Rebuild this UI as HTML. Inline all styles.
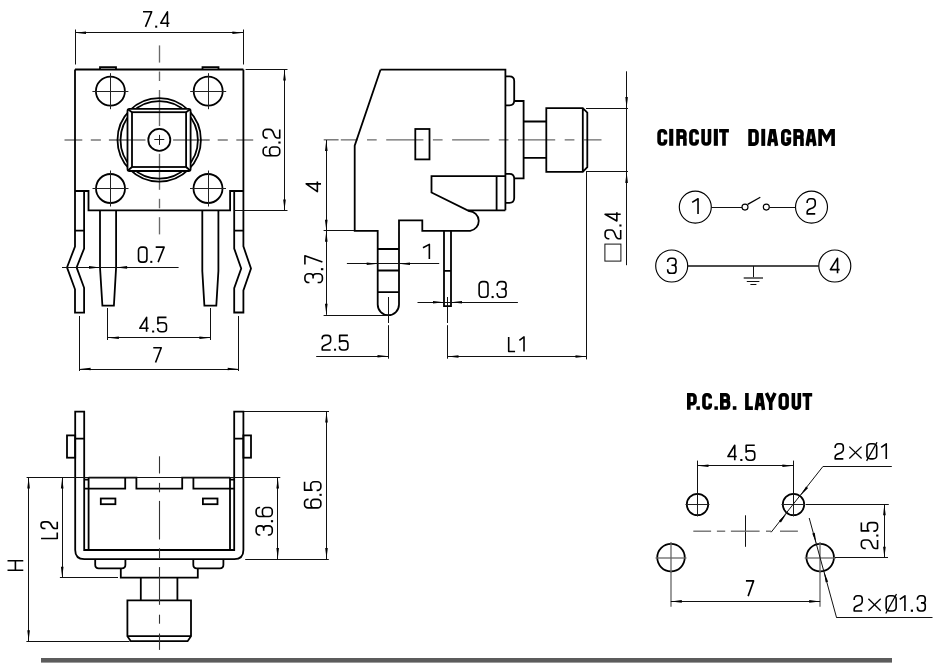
<!DOCTYPE html>
<html><head><meta charset="utf-8"><style>
html,body{margin:0;padding:0;background:#fff;width:941px;height:671px;overflow:hidden}
svg{display:block}
text{font-family:"Liberation Sans",sans-serif}
.k{stroke:#000;stroke-width:1.8;fill:none}
.n{stroke:#111;stroke-width:1;fill:none}
.n2{stroke:#222;stroke-width:1;fill:none}
.n15{stroke:#111;stroke-width:1.6;fill:none}
.c{stroke:#6a6a6a;stroke-width:1.35;fill:none}
.c2{stroke:#333;stroke-width:1.1;fill:none}
.cc{stroke:#000;stroke-width:1.15;fill:none}
.g{stroke:#666;stroke-width:1.3;fill:none}
.din{fill:none;stroke:#000;stroke-width:1.6;vector-effect:non-scaling-stroke;stroke-linejoin:round}
.dind{fill:#000}
.cc2{stroke:#111;stroke-width:1.45;fill:none}
.gb{stroke:#666;stroke-width:1.9;fill:none}
.bd{fill:none;stroke:#000;stroke-width:3.6;vector-effect:non-scaling-stroke;stroke-linejoin:miter;stroke-linecap:butt}
.bdf{fill:#000;stroke:none}
.x{stroke:#000;stroke-width:1.3;fill:none}
.a{fill:#000;stroke:none}
.tx{fill:#000;stroke:#fff;stroke-width:0.45;vector-effect:non-scaling-stroke;paint-order:fill}
.tb{fill:#000;stroke:#000;stroke-width:0.9;vector-effect:non-scaling-stroke;stroke-linejoin:miter}
.bar{fill:#5c5c5c;stroke:none}
</style></head><body>
<svg width="941" height="671" viewBox="0 0 941 671">
<line class="n" x1="75.5" y1="29.5" x2="75.5" y2="64.5"/>
<line class="n" x1="243.5" y1="29.5" x2="243.5" y2="64.5"/>
<line class="n" x1="75" y1="32.5" x2="243.4" y2="32.5"/>
<path class="a" d="M75,32.7L86,31.4L86,34Z"/>
<path class="a" d="M243.4,32.7L232.4,34L232.4,31.4Z"/>
<g transform="matrix(1.02941 0 0 0.98235 142.200 11.000)"><path class="din" transform="translate(0.00 0)" d="M0.8,0.8H9.2L3.2,16.2"/><path class="din" transform="translate(17.20 0)" d="M7.3,16.2V0.8L0.8,12.4H9.2"/><path class="dind" d="M12.60,14.9h2v2.1h-2Z"/></g>
<line class="c" x1="64.5" y1="140" x2="82.3" y2="140"/>
<line class="c" x1="90.8" y1="140" x2="100.9" y2="140"/>
<line class="c" x1="108.9" y1="140" x2="209.7" y2="140"/>
<line class="c" x1="217.7" y1="140" x2="227.8" y2="140"/>
<line class="c" x1="236.3" y1="140" x2="253.2" y2="140"/>
<line class="c" x1="159.5" y1="45.4" x2="159.5" y2="62.6"/>
<line class="c" x1="159.5" y1="71.5" x2="159.5" y2="81"/>
<line class="c" x1="159.5" y1="90" x2="159.5" y2="189.8"/>
<line class="c" x1="159.5" y1="198.8" x2="159.5" y2="208.3"/>
<line class="c" x1="159.5" y1="217.2" x2="159.5" y2="234.4"/>
<path class="k" d="M100,69.5V67.2H116V69.5M202.5,69.5V67.2H218.5V69.5" />
<path class="k" d="M75,69.5H243.4" />
<path class="k" d="M75,69.5V246.5L67,267.4L75,289.3V312.7H84.1V287.8L76.6,267.4L84.1,248.6V191" />
<path class="k" d="M75,191H88.5V210.4H230.1V191H243.4" />
<path class="k" d="M243.4,69.5V246.4L251,268.5L243.4,290.4V312.5H234.2V288.1L241.2,268.5L234.2,248.6V191" />
<path class="k" d="M75,230.7H84.1M234.2,230.7H243.4" />
<path class="k" d="M100,210.4V267.4L102.4,305.7H113.9L116.1,267.4V210.4" />
<path class="k" d="M202.3,210.4V271L204.4,305.7H216.3L218.4,271V210.4" />
<circle class="k" cx="110.4" cy="91.2" r="14.5" />
<line class="n2" x1="92.4" y1="91.5" x2="128.4" y2="91.5"/>
<line class="n2" x1="110.5" y1="73.2" x2="110.5" y2="109.2"/>
<circle class="k" cx="208.2" cy="91.2" r="14.5" />
<line class="n2" x1="190.2" y1="91.5" x2="226.2" y2="91.5"/>
<line class="n2" x1="208.5" y1="73.2" x2="208.5" y2="109.2"/>
<circle class="k" cx="110.5" cy="188.5" r="14.5" />
<line class="n2" x1="92.5" y1="188.5" x2="128.5" y2="188.5"/>
<line class="n2" x1="110.5" y1="170.5" x2="110.5" y2="206.5"/>
<circle class="k" cx="208" cy="188.5" r="14.5" />
<line class="n2" x1="190" y1="188.5" x2="226" y2="188.5"/>
<line class="n2" x1="208.5" y1="170.5" x2="208.5" y2="206.5"/>
<circle class="k" cx="159.2" cy="139.9" r="41.7" />
<circle class="k" cx="159.2" cy="139.9" r="38.7" />
<rect class="k" x="127.5" y="108.9" width="63.1" height="62.1" rx="2" style="fill:#fff;stroke:none"/>
<line class="c" x1="127.5" y1="140" x2="145.5" y2="140"/>
<line class="c" x1="173.1" y1="140" x2="190.6" y2="140"/>
<line class="c" x1="159.5" y1="108.9" x2="159.5" y2="126"/>
<line class="c" x1="159.5" y1="153.8" x2="159.5" y2="171"/>
<rect class="k" x="127.5" y="108.9" width="63.1" height="62.1" rx="2"/>
<rect class="k" x="132" y="112.2" width="54.1" height="54.8" />
<path class="k" d="M128.2,109.6L132,112.2M189.9,109.6L186.1,112.2M128.2,170.3L132,167M189.9,170.3L186.1,167" />
<circle class="k" cx="159.3" cy="139.9" r="11" style="fill:#fff"/>
<line class="n2" x1="154.3" y1="139.5" x2="164.3" y2="139.5"/>
<line class="n2" x1="159.5" y1="134.9" x2="159.5" y2="144.9"/>
<line class="n" x1="245.6" y1="69.5" x2="287.5" y2="69.5"/>
<line class="n" x1="234" y1="210.5" x2="287.5" y2="210.5"/>
<line class="n" x1="284.5" y1="69.3" x2="284.5" y2="210"/>
<path class="a" d="M284.5,69.5L285.8,80.5L283.2,80.5Z"/>
<path class="a" d="M284.5,210.5L283.2,199.5L285.8,199.5Z"/>
<g transform="matrix(0 -1.02574 1.07647 0 262.300 156.500)"><path class="din" transform="translate(0.00 0)" d="M9.2,4.6V4A3.2,3.2 0 0 0 6,0.8H4A3.2,3.2 0 0 0 0.8,4V13A3.2,3.2 0 0 0 4,16.2H6A3.2,3.2 0 0 0 9.2,13V10A3.2,3.2 0 0 0 6,6.8H4A3.2,3.2 0 0 0 0.8,10"/><path class="din" transform="translate(17.20 0)" d="M0.8,5V4A3.2,3.2 0 0 1 4,0.8H6A3.2,3.2 0 0 1 9.2,4V6.6C9.2,9.2 7.4,9.9 4.8,10.7C2.2,11.5 0.8,12.3 0.8,14.2V16.2H9.2"/><path class="dind" d="M12.60,14.9h2v2.1h-2Z"/></g>
<line class="n" x1="62" y1="267.5" x2="178.6" y2="267.5"/>
<path class="a" d="M100,267.4L89,268.7L89,266.1Z"/>
<path class="a" d="M116.1,267.4L127.1,266.1L127.1,268.7Z"/>
<g transform="matrix(1.00000 0 0 0.97647 137.700 246.300)"><path class="din" transform="translate(0.00 0)" d="M4,0.8H6A3.2,3.2 0 0 1 9.2,4V13A3.2,3.2 0 0 1 6,16.2H4A3.2,3.2 0 0 1 0.8,13V4A3.2,3.2 0 0 1 4,0.8Z"/><path class="din" transform="translate(17.20 0)" d="M0.8,0.8H9.2L3.2,16.2"/><path class="dind" d="M12.60,14.9h2v2.1h-2Z"/></g>
<line class="n" x1="107.5" y1="308" x2="107.5" y2="340"/>
<line class="n" x1="210.5" y1="308" x2="210.5" y2="340"/>
<line class="n" x1="107.9" y1="337.5" x2="210.4" y2="337.5"/>
<path class="a" d="M107.9,337.8L118.9,336.5L118.9,339.1Z"/>
<path class="a" d="M210.4,337.8L199.4,339.1L199.4,336.5Z"/>
<g transform="matrix(1.04044 0 0 0.93529 139.000 316.600)"><path class="din" transform="translate(0.00 0)" d="M7.3,16.2V0.8L0.8,12.4H9.2"/><path class="din" transform="translate(17.20 0)" d="M9.2,0.8H1V8.4M1,7.4C1.8,6.9 2.8,6.6 4,6.6H6A3.2,3.2 0 0 1 9.2,9.8V13A3.2,3.2 0 0 1 6,16.2H4A3.2,3.2 0 0 1 0.8,13V12.2"/><path class="dind" d="M12.60,14.9h2v2.1h-2Z"/></g>
<line class="n" x1="79.5" y1="316" x2="79.5" y2="371"/>
<line class="n" x1="238.5" y1="316" x2="238.5" y2="371"/>
<line class="n" x1="79.6" y1="369.5" x2="238.7" y2="369.5"/>
<path class="a" d="M79.6,369L90.6,367.7L90.6,370.3Z"/>
<path class="a" d="M238.7,369L227.7,370.3L227.7,367.7Z"/>
<g transform="matrix(0.95000 0 0 0.95882 152.500 347.000)"><path class="din" transform="translate(0.00 0)" d="M0.8,0.8H9.2L3.2,16.2"/></g>
<line class="c" x1="340.8" y1="139.8" x2="601.5" y2="139.8" stroke-dasharray="37.2 9.5 9.7 9.5" stroke-dashoffset="20.5"/>
<line class="c" x1="323.7" y1="139.8" x2="338.6" y2="139.8"/>
<path class="k" d="M380.5,69.7H505.4V210.3" />
<path class="k" d="M380.5,69.7L354.7,145.6V230.8H377.7V304.5A10.65,10.65 0 0 0 399,304.5V220.4H422.3V230.8H470.2A9.9,9.9 0 0 0 469.1,211.1L431.5,192.5V176.1H505.4" />
<path class="k" d="M467.9,210.3H505.4M496.6,176.1V210.3" />
<path class="k" d="M377.7,249H399M377.7,270.5H399M377.7,292.1H399" />
<path class="k" d="M444,230.8V306.2H451V230.8M444,270.9H451" />
<rect class="k" x="415.3" y="129" width="14.2" height="30.4" />
<path class="k" d="M505.4,76.4H509.5Q514.2,76.4 514.2,81V100.5Q514.2,105.3 509.5,105.3H505.4" />
<path class="k" d="M514.2,101H523.6V178.4H514.2" />
<path class="k" d="M505.4,173.8H509.5Q514.2,173.8 514.2,178.5V198Q514.2,202.8 509.5,202.8H505.4" />
<path class="k" d="M523.6,121.5H546.3M523.6,157.9H546.3" />
<path class="k" d="M546.3,108.1H582.8L587.3,112.6V167.2L582.8,171.9H546.3ZM582.8,108.1V171.9" />
<line class="n" x1="326.5" y1="140" x2="326.5" y2="314.8"/>
<path class="a" d="M326.3,140L327.6,151L325,151Z"/>
<path class="a" d="M326.3,230.8L325,219.8L327.6,219.8Z"/>
<path class="a" d="M326.3,230.8L327.6,241.8L325,241.8Z"/>
<path class="a" d="M326.3,314.8L325,303.8L327.6,303.8Z"/>
<line class="n" x1="323.6" y1="230.5" x2="354" y2="230.5"/>
<line class="n" x1="323.6" y1="315.5" x2="388" y2="315.5"/>
<g transform="matrix(0 -1.20000 0.96471 0 305.400 192.600)"><path class="din" transform="translate(0.00 0)" d="M7.3,16.2V0.8L0.8,12.4H9.2"/></g>
<g transform="matrix(0 -1.04412 1.13529 0 304.000 283.400)"><path class="din" transform="translate(0.00 0)" d="M0.8,4.8V4A3.2,3.2 0 0 1 4,0.8H6A3.2,3.2 0 0 1 9.2,4V5.3A2.7,2.7 0 0 1 6.5,8H4.6M6.5,8A2.7,2.7 0 0 1 9.2,10.7V13A3.2,3.2 0 0 1 6,16.2H4A3.2,3.2 0 0 1 0.8,13V12"/><path class="din" transform="translate(17.20 0)" d="M0.8,0.8H9.2L3.2,16.2"/><path class="dind" d="M12.60,14.9h2v2.1h-2Z"/></g>
<line class="n" x1="346.9" y1="263.5" x2="439.2" y2="263.5"/>
<path class="a" d="M377.7,263.7L366.7,265L366.7,262.4Z"/>
<path class="a" d="M399,263.7L410,262.4L410,265Z"/>
<g transform="matrix(1.18571 0 0 0.94706 422.000 243.600)"><path class="din" transform="translate(0.00 0)" d="M0.8,4.4L6.2,0.8V16.2"/></g>
<line class="n" x1="388.5" y1="297" x2="388.5" y2="323"/>
<line class="n" x1="388.5" y1="325.2" x2="388.5" y2="358.7"/>
<line class="n" x1="447.5" y1="297" x2="447.5" y2="323"/>
<line class="n" x1="447.5" y1="325.2" x2="447.5" y2="358.7"/>
<line class="n" x1="417.5" y1="302.5" x2="517.9" y2="302.5"/>
<path class="a" d="M444,302.2L433,303.5L433,300.9Z"/>
<path class="a" d="M451,302.2L462,300.9L462,303.5Z"/>
<g transform="matrix(1.05147 0 0 1.01765 478.300 280.800)"><path class="din" transform="translate(0.00 0)" d="M4,0.8H6A3.2,3.2 0 0 1 9.2,4V13A3.2,3.2 0 0 1 6,16.2H4A3.2,3.2 0 0 1 0.8,13V4A3.2,3.2 0 0 1 4,0.8Z"/><path class="din" transform="translate(17.20 0)" d="M0.8,4.8V4A3.2,3.2 0 0 1 4,0.8H6A3.2,3.2 0 0 1 9.2,4V5.3A2.7,2.7 0 0 1 6.5,8H4.6M6.5,8A2.7,2.7 0 0 1 9.2,10.7V13A3.2,3.2 0 0 1 6,16.2H4A3.2,3.2 0 0 1 0.8,13V12"/><path class="dind" d="M12.60,14.9h2v2.1h-2Z"/></g>
<line class="n" x1="316.2" y1="356.5" x2="388.5" y2="356.5"/>
<path class="a" d="M388.5,356.3L377.5,357.6L377.5,355Z"/>
<line class="n" x1="447.5" y1="356.5" x2="586.5" y2="356.5"/>
<path class="a" d="M447.5,356.5L458.5,355.2L458.5,357.8Z"/>
<path class="a" d="M586.5,356.5L575.5,357.8L575.5,355.2Z"/>
<g transform="matrix(1.00368 0 0 0.94706 321.400 334.600)"><path class="din" transform="translate(0.00 0)" d="M0.8,5V4A3.2,3.2 0 0 1 4,0.8H6A3.2,3.2 0 0 1 9.2,4V6.6C9.2,9.2 7.4,9.9 4.8,10.7C2.2,11.5 0.8,12.3 0.8,14.2V16.2H9.2"/><path class="din" transform="translate(17.20 0)" d="M9.2,0.8H1V8.4M1,7.4C1.8,6.9 2.8,6.6 4,6.6H6A3.2,3.2 0 0 1 9.2,9.8V13A3.2,3.2 0 0 1 6,16.2H4A3.2,3.2 0 0 1 0.8,13V12.2"/><path class="dind" d="M12.60,14.9h2v2.1h-2Z"/></g>
<g transform="matrix(0.86082 0 0 0.94706 508.000 336.200)"><path class="din" transform="translate(0.00 0)" d="M0.8,0.8V16.2H8.2"/><path class="din" transform="translate(12.40 0)" d="M0.8,4.4L6.2,0.8V16.2"/></g>
<line class="n" x1="586.5" y1="172" x2="586.5" y2="359.4"/>
<line class="n" x1="586" y1="108.5" x2="628" y2="108.5"/>
<line class="n" x1="586" y1="171.5" x2="628" y2="171.5"/>
<line class="n" x1="626.5" y1="71.3" x2="626.5" y2="265.2"/>
<path class="a" d="M626.6,108.1L625.3,97.1L627.9,97.1Z"/>
<path class="a" d="M626.6,171.9L627.9,182.9L625.3,182.9Z"/>
<g transform="matrix(0 -1.02941 1.01176 0 604.300 239.500)"><path class="din" transform="translate(0.00 0)" d="M0.8,5V4A3.2,3.2 0 0 1 4,0.8H6A3.2,3.2 0 0 1 9.2,4V6.6C9.2,9.2 7.4,9.9 4.8,10.7C2.2,11.5 0.8,12.3 0.8,14.2V16.2H9.2"/><path class="din" transform="translate(17.20 0)" d="M7.3,16.2V0.8L0.8,12.4H9.2"/><path class="dind" d="M12.60,14.9h2v2.1h-2Z"/></g>
<rect class="n" x="604.9" y="244.1" width="16" height="17" />
<path class="bd" transform="matrix(1.0000 0 0 1.0000 657.30 128.90)" d="M8.2,5.7V4.4A2.6,2.6 0 0 0 5.6,1.8H4.4A2.6,2.6 0 0 0 1.8,4.4V12.5A2.6,2.6 0 0 0 4.4,15.1H5.6A2.6,2.6 0 0 0 8.2,12.5V10.6"/><rect class="bdf" x="669.20" y="128.90" width="4.10" height="16.90"/><path class="bd" transform="matrix(1.0000 0 0 1.0000 676.30 128.90)" d="M1.8,16.9V1.8H6A2.6,2.6 0 0 1 8.6,4.4V6A2.2,2.2 0 0 1 6.4,8.2H1.8M6.4,8.2A2.2,2.2 0 0 1 8.6,10.4V16.9"/><path class="bd" transform="matrix(0.9700 0 0 1.0000 689.20 128.90)" d="M8.2,5.7V4.4A2.6,2.6 0 0 0 5.6,1.8H4.4A2.6,2.6 0 0 0 1.8,4.4V12.5A2.6,2.6 0 0 0 4.4,15.1H5.6A2.6,2.6 0 0 0 8.2,12.5V10.6"/><path class="bd" transform="matrix(1.0000 0 0 1.0000 701.30 128.90)" d="M1.8,0V12.5A2.6,2.6 0 0 0 4.4,15.1H5.6A2.6,2.6 0 0 0 8.2,12.5V0"/><rect class="bdf" x="713.80" y="128.90" width="4.10" height="16.90"/><path class="bd" transform="matrix(1.0000 0 0 1.0000 719.10 128.90)" d="M0,1.8H9.8M4.9,1.8V16.9"/>
<path class="bd" transform="matrix(1.0000 0 0 1.0059 748.30 128.90)" d="M1.8,16.9V1.8H5.9A2.8,2.8 0 0 1 8.7,4.6V12.3A2.8,2.8 0 0 1 5.9,15.1H1.8"/><rect class="bdf" x="761.30" y="128.90" width="3.90" height="17.00"/><path class="bd" transform="matrix(1.0000 0 0 1.0059 766.90 128.90)" d="M1.9,16.9L4.3,1.8H7.2L9.6,16.9M3.3,11.6H8.2"/><path class="bd" transform="matrix(1.0000 0 0 1.0059 781.00 128.90)" d="M8.4,5.7V4.4A2.6,2.6 0 0 0 5.8,1.8H4.4A2.6,2.6 0 0 0 1.8,4.4V12.5A2.6,2.6 0 0 0 4.4,15.1H5.8A2.6,2.6 0 0 0 8.4,12.5V10.2H5.4"/><path class="bd" transform="matrix(1.0096 0 0 1.0059 793.30 128.90)" d="M1.8,16.9V1.8H6A2.6,2.6 0 0 1 8.6,4.4V6A2.2,2.2 0 0 1 6.4,8.2H1.8M6.4,8.2A2.2,2.2 0 0 1 8.6,10.4V16.9"/><path class="bd" transform="matrix(1.0000 0 0 1.0059 805.30 128.90)" d="M1.9,16.9L4.3,1.8H7.2L9.6,16.9M3.3,11.6H8.2"/><path class="bd" transform="matrix(1.0000 0 0 1.0059 818.30 128.90)" d="M1.8,16.9V1.8H3.6L8.3,10.2L13,1.8H14.8V16.9"/>
<circle class="cc" cx="695.3" cy="207.1" r="16" />
<circle class="cc" cx="811.5" cy="207.1" r="16" />
<circle class="cc" cx="671.7" cy="266" r="16" />
<circle class="cc" cx="834.8" cy="266" r="16" />
<g transform="matrix(1.08571 0 0 0.98235 691.300 198.000)"><path class="din" transform="translate(0.00 0)" d="M0.8,4.4L6.2,0.8V16.2"/></g>
<g transform="matrix(0.96000 0 0 0.98235 806.400 198.000)"><path class="din" transform="translate(0.00 0)" d="M0.8,5V4A3.2,3.2 0 0 1 4,0.8H6A3.2,3.2 0 0 1 9.2,4V6.6C9.2,9.2 7.4,9.9 4.8,10.7C2.2,11.5 0.8,12.3 0.8,14.2V16.2H9.2"/></g>
<g transform="matrix(0.99000 0 0 0.98235 666.900 257.400)"><path class="din" transform="translate(0.00 0)" d="M0.8,4.8V4A3.2,3.2 0 0 1 4,0.8H6A3.2,3.2 0 0 1 9.2,4V5.3A2.7,2.7 0 0 1 6.5,8H4.6M6.5,8A2.7,2.7 0 0 1 9.2,10.7V13A3.2,3.2 0 0 1 6,16.2H4A3.2,3.2 0 0 1 0.8,13V12"/></g>
<g transform="matrix(1.10000 0 0 0.98235 829.500 257.400)"><path class="din" transform="translate(0.00 0)" d="M7.3,16.2V0.8L0.8,12.4H9.2"/></g>
<line class="n" x1="711.3" y1="207.5" x2="742" y2="207.5"/>
<circle class="cc" cx="745" cy="207.1" r="3" />
<line class="x" x1="747.7" y1="204.4" x2="760.3" y2="197.2"/>
<circle class="cc" cx="766.3" cy="207.1" r="3" />
<line class="n" x1="769.3" y1="207.5" x2="795.5" y2="207.5"/>
<line class="cc2" x1="687.7" y1="266" x2="818.8" y2="266"/>
<line class="n" x1="753.5" y1="266" x2="753.5" y2="278"/>
<line class="gb" x1="743.7" y1="278" x2="763" y2="278"/>
<line class="n" x1="746.8" y1="281.5" x2="759.4" y2="281.5"/>
<line class="n" x1="750.4" y1="284.5" x2="756.4" y2="284.5"/>
<path class="bd" transform="matrix(1.0000 0 0 1.0000 687.00 392.90)" d="M1.8,16.9V1.8H5.4A2.6,2.6 0 0 1 8,4.4V8.3A2.6,2.6 0 0 1 5.4,10.9H1.8"/><rect class="bdf" x="696.40" y="406.30" width="3.50" height="3.50"/><path class="bd" transform="matrix(0.9800 0 0 1.0000 702.20 392.90)" d="M8.2,5.7V4.4A2.6,2.6 0 0 0 5.6,1.8H4.4A2.6,2.6 0 0 0 1.8,4.4V12.5A2.6,2.6 0 0 0 4.4,15.1H5.6A2.6,2.6 0 0 0 8.2,12.5V10.6"/><rect class="bdf" x="714.40" y="406.30" width="3.50" height="3.50"/><path class="bd" transform="matrix(1.0000 0 0 1.0000 720.00 392.90)" d="M1.8,16.9V1.8H5.8A2.4,2.4 0 0 1 8.2,4.2V5.8A2.2,2.2 0 0 1 6,8H1.8M6,8H6.2A2.4,2.4 0 0 1 8.6,10.4V12.7A2.4,2.4 0 0 1 6.2,15.1H1.8"/><rect class="bdf" x="732.80" y="406.20" width="3.60" height="3.60"/>
<path class="bd" transform="matrix(1.0000 0 0 1.0059 745.10 392.90)" d="M1.8,0V15.1H7.8"/><path class="bd" transform="matrix(0.9478 0 0 1.0059 754.40 392.90)" d="M1.9,16.9L4.3,1.8H7.2L9.6,16.9M3.3,11.6H8.2"/><path class="bd" transform="matrix(1.0000 0 0 1.0059 764.50 392.90)" d="M1.9,0L6.2,9.5L10.5,0M6.2,9.5V16.9"/><path class="bd" transform="matrix(1.0000 0 0 1.0059 778.50 392.90)" d="M4.4,1.8H6A2.6,2.6 0 0 1 8.6,4.4V12.5A2.6,2.6 0 0 1 6,15.1H4.4A2.6,2.6 0 0 1 1.8,12.5V4.4A2.6,2.6 0 0 1 4.4,1.8Z"/><path class="bd" transform="matrix(0.9300 0 0 1.0059 791.70 392.90)" d="M1.8,0V12.5A2.6,2.6 0 0 0 4.4,15.1H5.6A2.6,2.6 0 0 0 8.2,12.5V0"/><path class="bd" transform="matrix(0.9898 0 0 1.0059 802.50 392.90)" d="M0,1.8H9.8M4.9,1.8V16.9"/>
<circle class="k" cx="697.5" cy="504.5" r="10.7" />
<line class="n2" x1="685.5" y1="504.5" x2="709.5" y2="504.5"/>
<line class="n2" x1="697.5" y1="492.5" x2="697.5" y2="516.5"/>
<circle class="k" cx="793.5" cy="504.5" r="10.7" />
<line class="n2" x1="781.5" y1="504.5" x2="805.5" y2="504.5"/>
<line class="n2" x1="793.5" y1="492.5" x2="793.5" y2="516.5"/>
<circle class="k" cx="671" cy="557.6" r="13.75" />
<line class="g" x1="655.5" y1="558" x2="686.5" y2="558"/>
<line class="g" x1="671" y1="542.1" x2="671" y2="573.1"/>
<circle class="k" cx="820.2" cy="557.6" r="13.75" />
<line class="g" x1="804.7" y1="558" x2="835.7" y2="558"/>
<line class="g" x1="820" y1="542.1" x2="820" y2="573.1"/>
<line class="n" x1="697.5" y1="460.6" x2="697.5" y2="504.2"/>
<line class="n" x1="793.5" y1="460.6" x2="793.5" y2="504.2"/>
<line class="n" x1="697.5" y1="465.5" x2="793.4" y2="465.5"/>
<path class="a" d="M697.5,465.8L708.5,464.5L708.5,467.1Z"/>
<path class="a" d="M793.4,465.8L782.4,467.1L782.4,464.5Z"/>
<g transform="matrix(1.04779 0 0 0.97059 727.100 444.500)"><path class="din" transform="translate(0.00 0)" d="M7.3,16.2V0.8L0.8,12.4H9.2"/><path class="din" transform="translate(17.20 0)" d="M9.2,0.8H1V8.4M1,7.4C1.8,6.9 2.8,6.6 4,6.6H6A3.2,3.2 0 0 1 9.2,9.8V13A3.2,3.2 0 0 1 6,16.2H4A3.2,3.2 0 0 1 0.8,13V12.2"/><path class="dind" d="M12.60,14.9h2v2.1h-2Z"/></g>
<line class="n" x1="745.5" y1="515.3" x2="745.5" y2="546.8"/>
<line class="g" x1="693.3" y1="531.2" x2="711.1" y2="531.2"/>
<line class="g" x1="716.9" y1="531.2" x2="725.2" y2="531.2"/>
<line class="g" x1="730.9" y1="531.2" x2="759.6" y2="531.2"/>
<line class="g" x1="766" y1="531.2" x2="771.1" y2="531.2"/>
<line class="g" x1="780" y1="531.2" x2="797.9" y2="531.2"/>
<line class="n" x1="771.1" y1="532.3" x2="823" y2="466.4"/>
<line class="n" x1="823" y1="466.5" x2="891.8" y2="466.5"/>
<path class="a" d="M800.31,495.85L806.09,486.41L808.14,488.02Z"/>
<path class="a" d="M786.69,513.15L780.91,522.59L778.86,520.98Z"/>
<g transform="matrix(0.97000 0 0 0.98235 834.400 443.000)"><path class="din" transform="translate(0.00 0)" d="M0.8,5V4A3.2,3.2 0 0 1 4,0.8H6A3.2,3.2 0 0 1 9.2,4V6.6C9.2,9.2 7.4,9.9 4.8,10.7C2.2,11.5 0.8,12.3 0.8,14.2V16.2H9.2"/></g>
<line class="x" x1="849.3" y1="446.6" x2="861.6" y2="458.5"/>
<line class="x" x1="849.3" y1="458.5" x2="861.6" y2="446.6"/>
<g transform="matrix(1.16000 0 0 0.98235 866.000 443.000)"><path class="din" transform="translate(0.00 0)" d="M4,0.8H6A3.2,3.2 0 0 1 9.2,4V13A3.2,3.2 0 0 1 6,16.2H4A3.2,3.2 0 0 1 0.8,13V4A3.2,3.2 0 0 1 4,0.8Z"/></g>
<line class="x" x1="866.6" y1="460.9" x2="877" y2="442.2"/>
<g transform="matrix(0.94286 0 0 0.98235 880.400 443.000)"><path class="din" transform="translate(0.00 0)" d="M0.8,4.4L6.2,0.8V16.2"/></g>
<line class="n" x1="806" y1="504.5" x2="888.8" y2="504.5"/>
<line class="n" x1="835" y1="557.5" x2="888" y2="557.5"/>
<line class="n" x1="884.5" y1="504.2" x2="884.5" y2="557.7"/>
<path class="a" d="M884.4,504.2L885.7,515.2L883.1,515.2Z"/>
<path class="a" d="M884.4,557.7L883.1,546.7L885.7,546.7Z"/>
<g transform="matrix(0 -1.01103 1.05294 0 860.500 549.300)"><path class="din" transform="translate(0.00 0)" d="M0.8,5V4A3.2,3.2 0 0 1 4,0.8H6A3.2,3.2 0 0 1 9.2,4V6.6C9.2,9.2 7.4,9.9 4.8,10.7C2.2,11.5 0.8,12.3 0.8,14.2V16.2H9.2"/><path class="din" transform="translate(17.20 0)" d="M9.2,0.8H1V8.4M1,7.4C1.8,6.9 2.8,6.6 4,6.6H6A3.2,3.2 0 0 1 9.2,9.8V13A3.2,3.2 0 0 1 6,16.2H4A3.2,3.2 0 0 1 0.8,13V12.2"/><path class="dind" d="M12.60,14.9h2v2.1h-2Z"/></g>
<line class="n" x1="809.2" y1="518" x2="836.6" y2="617.8"/>
<line class="n" x1="836.6" y1="617.5" x2="932.5" y2="617.5"/>
<path class="a" d="M823.99,571.39L828.15,581.65L825.64,582.34Z"/>
<path class="a" d="M816.41,543.81L812.25,533.55L814.76,532.86Z"/>
<g transform="matrix(0.96000 0 0 0.98824 853.400 595.000)"><path class="din" transform="translate(0.00 0)" d="M0.8,5V4A3.2,3.2 0 0 1 4,0.8H6A3.2,3.2 0 0 1 9.2,4V6.6C9.2,9.2 7.4,9.9 4.8,10.7C2.2,11.5 0.8,12.3 0.8,14.2V16.2H9.2"/></g>
<line class="x" x1="868.4" y1="598.8" x2="880.7" y2="610.7"/>
<line class="x" x1="868.4" y1="610.7" x2="880.7" y2="598.8"/>
<g transform="matrix(1.19000 0 0 0.98824 885.200 595.000)"><path class="din" transform="translate(0.00 0)" d="M4,0.8H6A3.2,3.2 0 0 1 9.2,4V13A3.2,3.2 0 0 1 6,16.2H4A3.2,3.2 0 0 1 0.8,13V4A3.2,3.2 0 0 1 4,0.8Z"/></g>
<line class="x" x1="885.8" y1="613.5" x2="896.5" y2="594"/>
<g transform="matrix(0.95714 0 0 0.98824 899.000 595.000)"><path class="din" transform="translate(0.00 0)" d="M0.8,4.4L6.2,0.8V16.2"/></g>
<rect class="dind" x="910.8" y="609.6" width="2.2" height="2.2" />
<g transform="matrix(0.93000 0 0 0.98824 916.700 595.000)"><path class="din" transform="translate(0.00 0)" d="M0.8,4.8V4A3.2,3.2 0 0 1 4,0.8H6A3.2,3.2 0 0 1 9.2,4V5.3A2.7,2.7 0 0 1 6.5,8H4.6M6.5,8A2.7,2.7 0 0 1 9.2,10.7V13A3.2,3.2 0 0 1 6,16.2H4A3.2,3.2 0 0 1 0.8,13V12"/></g>
<line class="g" x1="671" y1="571.5" x2="671" y2="606.7"/>
<line class="g" x1="820" y1="571.5" x2="820" y2="606.7"/>
<line class="n" x1="670.8" y1="601.5" x2="820.2" y2="601.5"/>
<path class="a" d="M670.8,601.4L681.8,600.1L681.8,602.7Z"/>
<path class="a" d="M820.2,601.4L809.2,602.7L809.2,600.1Z"/>
<g transform="matrix(0.91000 0 0 0.98824 745.200 580.100)"><path class="din" transform="translate(0.00 0)" d="M0.8,0.8H9.2L3.2,16.2"/></g>
<path class="k" d="M75.2,411.6V550Q75.2,559.1 84.3,559.1H234.3Q243.4,559.1 243.4,550V411.6H234.2V550H84.2V411.6Z" />
<path class="k" d="M75.2,438.6H84.2M234.2,438.6H243.4" />
<rect class="k" x="67" y="435.4" width="8.2" height="22.3" />
<rect class="k" x="243.4" y="435.4" width="7.6" height="22.3" />
<path class="k" d="M88.6,477.6V550M230,477.6V550" />
<path class="k" d="M88.6,477.6H136.4V488.6H182.2V477.6H230" />
<path class="k" d="M84.2,488.6H125.2V477.6M234.2,488.6H193.4V477.6" />
<path class="k" d="M84.2,479.6H88.6M230,479.6H234.2" />
<rect class="k" x="100.8" y="498.5" width="14.6" height="5.7" />
<rect class="k" x="202.9" y="498.5" width="14.6" height="5.7" />
<path class="k" d="M95.2,559.1V564.8Q95.2,568.3 98.7,568.3H121.9Q125.4,568.3 125.4,564.8V559.1" />
<path class="k" d="M193.3,559.1V564.8Q193.3,568.3 196.8,568.3H219.9Q223.4,568.3 223.4,564.8V559.1" />
<path class="k" d="M120.8,568.3V577.7H197.8V568.3" />
<path class="k" d="M140.8,577.7V600.3M177.4,577.7V600.3" />
<path class="k" d="M127.4,600.3H191V636.2L187.6,641.2H130.8L127.4,636.2ZM127.4,636.2H191" />
<line class="c2" x1="159.5" y1="456.3" x2="159.5" y2="473.5"/>
<line class="c2" x1="159.5" y1="482.9" x2="159.5" y2="492.3"/>
<line class="c2" x1="159.5" y1="500.9" x2="159.5" y2="539.5"/>
<line class="c2" x1="159.5" y1="548.3" x2="159.5" y2="558.1"/>
<line class="c2" x1="159.5" y1="567.1" x2="159.5" y2="604.8"/>
<line class="c2" x1="159.5" y1="614.7" x2="159.5" y2="623.7"/>
<line class="c2" x1="159.5" y1="633.5" x2="159.5" y2="649.9"/>
<line class="n" x1="244" y1="411.5" x2="329" y2="411.5"/>
<line class="n" x1="326.5" y1="411.6" x2="326.5" y2="559.1"/>
<path class="a" d="M326.5,411.6L327.8,422.6L325.2,422.6Z"/>
<path class="a" d="M326.5,559.1L325.2,548.1L327.8,548.1Z"/>
<g transform="matrix(0 -1.01838 1.05882 0 303.700 508.700)"><path class="din" transform="translate(0.00 0)" d="M9.2,4.6V4A3.2,3.2 0 0 0 6,0.8H4A3.2,3.2 0 0 0 0.8,4V13A3.2,3.2 0 0 0 4,16.2H6A3.2,3.2 0 0 0 9.2,13V10A3.2,3.2 0 0 0 6,6.8H4A3.2,3.2 0 0 0 0.8,10"/><path class="din" transform="translate(17.20 0)" d="M9.2,0.8H1V8.4M1,7.4C1.8,6.9 2.8,6.6 4,6.6H6A3.2,3.2 0 0 1 9.2,9.8V13A3.2,3.2 0 0 1 6,16.2H4A3.2,3.2 0 0 1 0.8,13V12.2"/><path class="dind" d="M12.60,14.9h2v2.1h-2Z"/></g>
<line class="n" x1="26.6" y1="477.5" x2="280.3" y2="477.5"/>
<line class="n" x1="277.5" y1="477.5" x2="277.5" y2="559.1"/>
<path class="a" d="M277.7,477.5L279,488.5L276.4,488.5Z"/>
<path class="a" d="M277.7,559.1L276.4,548.1L279,548.1Z"/>
<line class="n" x1="245.2" y1="559.5" x2="328.8" y2="559.5"/>
<g transform="matrix(0 -1.07353 1.04706 0 255.300 535.800)"><path class="din" transform="translate(0.00 0)" d="M0.8,4.8V4A3.2,3.2 0 0 1 4,0.8H6A3.2,3.2 0 0 1 9.2,4V5.3A2.7,2.7 0 0 1 6.5,8H4.6M6.5,8A2.7,2.7 0 0 1 9.2,10.7V13A3.2,3.2 0 0 1 6,16.2H4A3.2,3.2 0 0 1 0.8,13V12"/><path class="din" transform="translate(17.20 0)" d="M9.2,4.6V4A3.2,3.2 0 0 0 6,0.8H4A3.2,3.2 0 0 0 0.8,4V13A3.2,3.2 0 0 0 4,16.2H6A3.2,3.2 0 0 0 9.2,13V10A3.2,3.2 0 0 0 6,6.8H4A3.2,3.2 0 0 0 0.8,10"/><path class="dind" d="M12.60,14.9h2v2.1h-2Z"/></g>
<line class="n" x1="28.5" y1="477.5" x2="28.5" y2="641.2"/>
<path class="a" d="M28.6,477.5L29.9,488.5L27.3,488.5Z"/>
<path class="a" d="M28.6,641.2L27.3,630.2L29.9,630.2Z"/>
<line class="n" x1="26.4" y1="641.5" x2="129.6" y2="641.5"/>
<g transform="matrix(0 -1.12000 1.02353 0 6.700 571.100)"><path class="din" transform="translate(0.00 0)" d="M0.8,0.8V16.2M9.2,0.8V16.2M0.8,8.5H9.2"/></g>
<line class="n" x1="62.5" y1="477.5" x2="62.5" y2="577.7"/>
<path class="a" d="M62.2,477.5L63.5,488.5L60.9,488.5Z"/>
<path class="a" d="M62.2,577.7L60.9,566.7L63.5,566.7Z"/>
<line class="n" x1="59.9" y1="577.5" x2="118" y2="577.5"/>
<g transform="matrix(0 -0.79911 1.05294 0 40.200 539.100)"><path class="din" transform="translate(0.00 0)" d="M0.8,0.8V16.2H8.2"/><path class="din" transform="translate(12.40 0)" d="M0.8,5V4A3.2,3.2 0 0 1 4,0.8H6A3.2,3.2 0 0 1 9.2,4V6.6C9.2,9.2 7.4,9.9 4.8,10.7C2.2,11.5 0.8,12.3 0.8,14.2V16.2H9.2"/></g>
<rect class="bar" x="41" y="658" width="851" height="4.6" />
</svg>
</body></html>
